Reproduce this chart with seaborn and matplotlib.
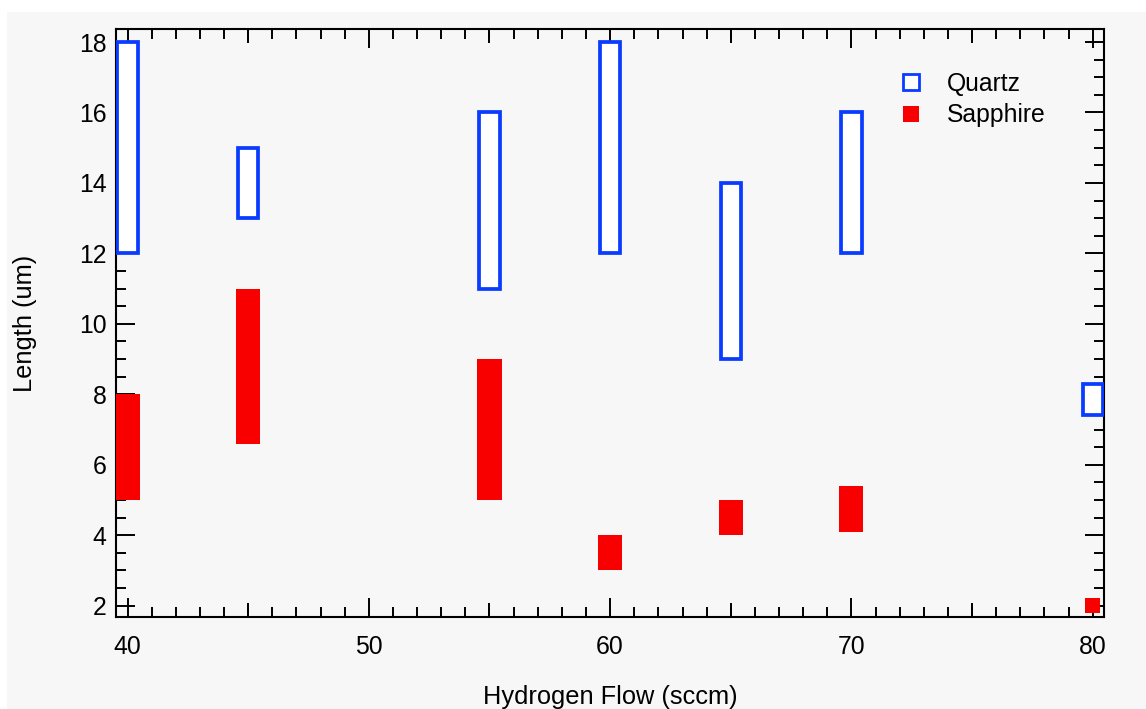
import matplotlib
matplotlib.use("Agg")
import matplotlib.pyplot as plt
from matplotlib.patches import Rectangle
from matplotlib.lines import Line2D
from matplotlib.ticker import MultipleLocator, FixedLocator, NullFormatter
import seaborn as sns
import pandas as pd

# ---- data ----
quartz_flow = [40, 45, 55, 60, 65, 70, 80]
quartz_low = [12, 13, 11, 12, 9, 12, 7.4]
quartz_high = [18, 15, 16, 18, 14, 16, 8.3]

sapphire_flow = [40, 45, 55, 60, 65, 70]
sapphire_low = [5, 6.6, 5, 3, 4, 4.1]
sapphire_high = [8, 11, 9, 4, 5, 5.4]

sapphire_flow_80 = [80]
sapphire_low_80 = [1.79]
sapphire_high_80 = [2.21]

x_ticks = [40, 50, 60, 70, 80]
y_ticks = [2, 4, 6, 8, 10, 12, 14, 16, 18]

BLUE = "#0a3cff"
RED = "#f80000"
BG = "#f7f7f7"

sns.set_theme(style="ticks")
plt.rcParams["font.family"] = ["Liberation Sans", "DejaVu Sans"]
plt.rcParams["text.color"] = "black"
plt.rcParams["axes.labelcolor"] = "black"

W, H = 1146, 709
fig = plt.figure(figsize=(W / 100, H / 100), dpi=100, facecolor="white")
fig.add_artist(Rectangle((7 / W, 0), 1, (H - 12) / H, transform=fig.transFigure,
                         facecolor=BG, edgecolor="none", zorder=-10))
ax = fig.add_axes([116 / W, (H - 617) / H, (1104 - 116) / W, (617 - 29) / H])
ax.set_facecolor(BG)

dq = pd.DataFrame({"flow": quartz_flow, "low": quartz_low, "high": quartz_high})
dq["span"] = dq["high"] - dq["low"]
dq = dq.sort_values("flow")
ds = pd.DataFrame({"flow": sapphire_flow, "low": sapphire_low, "high": sapphire_high})
ds["span"] = ds["high"] - ds["low"]
ds = ds.sort_values("flow")
ds80 = pd.DataFrame({"flow": sapphire_flow_80, "low": sapphire_low_80, "high": sapphire_high_80})
ds80["span"] = ds80["high"] - ds80["low"]

sns.barplot(data=ds, x="flow", y="span", bottom=ds["low"].to_numpy(), native_scale=True,
            width=0.2, errorbar=None, color=RED, edgecolor="none", linewidth=0,
            saturation=1, ax=ax, zorder=3)
sns.barplot(data=ds80, x="flow", y="span", bottom=ds80["low"].to_numpy(), native_scale=True,
            width=0.64, errorbar=None, color=RED, edgecolor="none", linewidth=0,
            saturation=1, ax=ax, zorder=3)
sns.barplot(data=dq, x="flow", y="span", bottom=dq["low"].to_numpy(), native_scale=True,
            width=0.168, errorbar=None, color="white", edgecolor=BLUE, linewidth=2.7,
            saturation=1, ax=ax, zorder=4)
for p in ax.patches:
    if p.get_edgecolor()[2] > 0.9 and p.get_edgecolor()[0] < 0.2:
        p.set_facecolor("white")

ax.set_xlim(39.52, 80.47)
ax.set_ylim(1.68, 18.37)

ax.xaxis.set_major_locator(FixedLocator(x_ticks))
ax.xaxis.set_minor_locator(MultipleLocator(1))
ax.yaxis.set_major_locator(FixedLocator(y_ticks))
ax.yaxis.set_minor_locator(MultipleLocator(0.5))

for s in ax.spines.values():
    s.set_visible(True)
    s.set_linewidth(1.5)
    s.set_color("black")

ax.tick_params(which="both", direction="in", top=True, right=True, width=1.4, color="black",
               labelsize=17.8, labelcolor="black")
ax.tick_params(which="major", length=13.7)
ax.tick_params(which="minor", length=7.2)
ax.tick_params(axis="x", which="major", pad=13)
ax.tick_params(axis="y", which="major", pad=7)

# medium ticks every 5 on x
for loc in ("bottom", "top"):
    sec = ax.secondary_xaxis(loc)
    sec.set_xticks([45, 55, 65, 75])
    sec.xaxis.set_major_formatter(NullFormatter())
    sec.tick_params(direction="in", length=10.2, width=1.4, color="black")
    sec.spines[loc].set_visible(False)

ax.set_xlabel("Hydrogen Flow (sccm)", fontsize=18.3, color="black")
ax.set_ylabel("Length (um)", fontsize=18.3, color="black")
ax.xaxis.set_label_coords(0.5, -0.115)
ax.yaxis.set_label_coords(-0.08, 0.5)

handles = [
    Line2D([], [], linestyle="none", marker="s", markersize=11, markerfacecolor="white",
           markeredgecolor=BLUE, markeredgewidth=2),
    Line2D([], [], linestyle="none", marker="s", markersize=11.5, markerfacecolor=RED,
           markeredgecolor=RED, markeredgewidth=0),
]
ax.legend(handles, ["Quartz", "Sapphire"], loc="upper left", bbox_to_anchor=(0.792, 0.927),
          frameon=False, fontsize=17.8, handlelength=1.0, handletextpad=0.95,
          labelspacing=0.3, borderpad=0, borderaxespad=0, labelcolor="black")

fig.savefig("out.png", dpi=100, facecolor="white")
